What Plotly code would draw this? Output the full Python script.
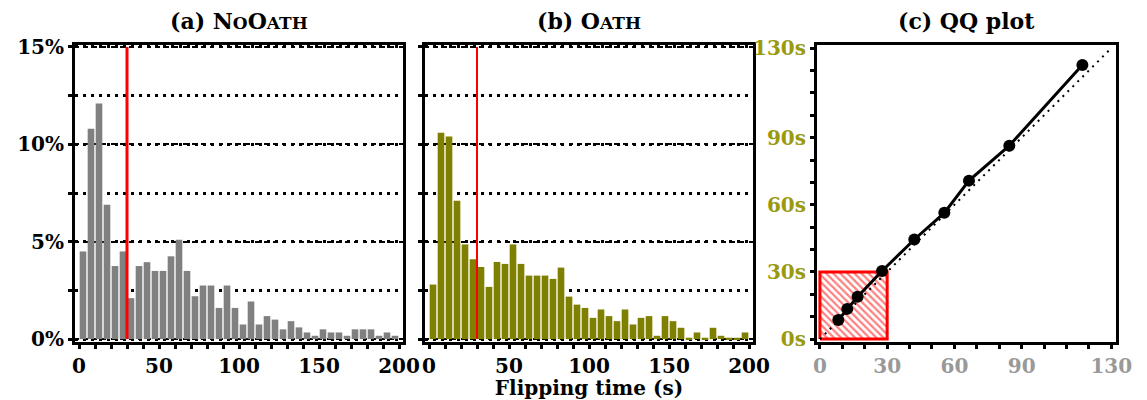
import plotly.graph_objects as go

# ---------------- data ----------------
bin_starts = list(range(0, 200, 5))          # 5-second bins, 0..200 s
noath_pct = [4.5, 10.8, 12.1, 6.9, 3.75, 4.5, 2.1, 3.75, 3.95, 3.5,
             3.5, 4.25, 5.1, 3.5, 2.2, 2.75, 2.75, 1.6, 2.75, 1.6,
             0.75, 1.93, 0.75, 1.18, 1.0, 0.5, 0.92, 0.6, 0.34, 0.17,
             0.5, 0.34, 0.34, 0.17, 0.5, 0.5, 0.5, 0.17, 0.34, 0.17]
oath_pct = [2.8, 10.6, 10.4, 7.1, 4.86, 4.1, 3.7, 2.68, 3.96, 3.86,
            4.86, 3.86, 3.26, 3.26, 3.26, 3.09, 3.67, 2.18, 1.77, 1.6,
            1.09, 1.52, 1.18, 0.92, 1.52, 0.75, 1.09, 1.18, 0.17, 1.18,
            0.92, 0.58, 0.07, 0.34, 0.07, 0.58, 0.17, 0.07, 0.07, 0.34]
threshold_s = 30

qq_noath = [8.2, 12.2, 16.8, 27.7, 42.1, 55.5, 66.5, 84.5, 117.1]
qq_oath = [8.5, 13.5, 18.9, 30.4, 44.5, 56.4, 70.8, 86.4, 122.5]
qq_ref = [0, 130]

hist_xticks = [0, 50, 100, 150, 200]
hist_yticks = [0, 5, 10, 15]
hist_ylabels = ["0%", "5%", "10%", "15%"]
qq_ticks = [0, 30, 60, 90, 130]
qq_ylabels = ["0s", "30s", "60s", "90s", "130s"]

# ---------------- styling ----------------
W, H = 1147, 400
FONT = "DejaVu Serif"
GRAY = "#808080"
OLIVE = "#808000"
OLIVE_TXT = "#9a9a10"

def px_x(a, b):
    return [a / W, b / W]

def px_y(top, bottom):
    return [(H - bottom) / H, (H - top) / H]

x_centers = [s + 2.5 for s in bin_starts]

fig = go.Figure()
fig.add_trace(go.Bar(x=x_centers, y=noath_pct, marker=dict(color=GRAY, line=dict(width=0)),
                     xaxis="x", yaxis="y", showlegend=False))
fig.add_trace(go.Bar(x=x_centers, y=oath_pct, marker=dict(color=OLIVE, line=dict(width=0)),
                     xaxis="x2", yaxis="y2", showlegend=False))

# hatched square in QQ plot
sq = threshold_s
fig.add_trace(go.Scatter(x=[0, sq, sq, 0, 0], y=[0, 0, sq, sq, 0], mode="lines",
                         fill="toself", fillcolor="white",
                         fillpattern=dict(shape="\\", fgcolor="#ff0000", bgcolor="white",
                                          size=5, solidity=0.45),
                         line=dict(color="red", width=3),
                         xaxis="x3", yaxis="y3", showlegend=False))
fig.add_trace(go.Scatter(x=qq_ref, y=qq_ref, mode="lines",
                         line=dict(color="black", width=2, dash="2px,5px"),
                         xaxis="x3", yaxis="y3", showlegend=False))
fig.add_trace(go.Scatter(x=qq_noath, y=qq_oath, mode="lines+markers",
                         line=dict(color="black", width=3),
                         marker=dict(color="black", size=12),
                         xaxis="x3", yaxis="y3", showlegend=False))

tickfont = dict(family=FONT, size=20, color="black", weight="bold")
axis_common = dict(showline=True, linewidth=3, linecolor="black", mirror=True,
                   zeroline=False, ticks="outside", ticklen=4, tickwidth=3,
                   tickcolor="black", automargin=False)

hist_x = dict(axis_common, range=[-2.5, 202.5], tickvals=hist_xticks,
              showgrid=False, tickfont=tickfont,
              minor=dict(dtick=10, ticks="outside", ticklen=4, tickwidth=3,
                         tickcolor="black", showgrid=False))
hist_y_grid = dict(range=[-0.15, 15.1], showgrid=True, gridcolor="black",
                   gridwidth=1.5, griddash="4px,5px",
                   minor=dict(dtick=2.5, ticks="outside", ticklen=4, tickwidth=3,
                              tickcolor="black", showgrid=True, gridcolor="black",
                              gridwidth=3, griddash="3px,5px"))

fig.update_layout(
    width=W, height=H,
    margin=dict(l=0, r=0, t=0, b=0),
    paper_bgcolor="white", plot_bgcolor="white",
    bargap=0.17,
    font=dict(family=FONT, color="black"),
    xaxis=dict(hist_x, domain=px_x(75, 403), anchor="y"),
    yaxis=dict(axis_common, **hist_y_grid, domain=px_y(45, 342), anchor="x",
               tickvals=hist_yticks, ticktext=hist_ylabels, tickfont=tickfont),
    xaxis2=dict(hist_x, domain=px_x(425, 753), anchor="y2",
                title=dict(text="<b>Flipping time (s)</b>",
                           font=dict(family=FONT, size=20), standoff=0)),
    yaxis2=dict(axis_common, **hist_y_grid, domain=px_y(45, 342), anchor="x2",
                tickvals=hist_yticks, showticklabels=False),
    xaxis3=dict(axis_common, domain=px_x(817, 1116), anchor="y3",
                range=[-1.3, 132.1], tickvals=qq_ticks, showgrid=False,
                tickfont=dict(family=FONT, size=20, color="#999999", weight="bold"),
                minor=dict(dtick=10, ticks="outside", ticklen=4, tickwidth=3,
                           tickcolor="black")),
    yaxis3=dict(axis_common, domain=px_y(45, 342), anchor="x3",
                range=[-1.3, 131.4], tickvals=qq_ticks, ticktext=qq_ylabels,
                showgrid=False,
                tickfont=dict(family=FONT, size=20, color=OLIVE_TXT, weight="bold"),
                minor=dict(dtick=10, ticks="outside", ticklen=4, tickwidth=3,
                           tickcolor="black")),
)
fig.update_yaxes(layer="above traces")

# threshold lines
fig.add_shape(type="line", x0=threshold_s, x1=threshold_s, y0=0, y1=15,
              xref="x", yref="y", line=dict(color="red", width=3))
fig.add_shape(type="line", x0=threshold_s, x1=threshold_s, y0=0, y1=15,
              xref="x2", yref="y2", line=dict(color="red", width=2))

def title_text(letter, big_small):
    s = f"({letter}) "
    for part, small in big_small:
        if small:
            s += f"<span style='font-size:17px'>{part}</span>"
        else:
            s += part
    return s

titles = [
    (239 / W, title_text("a", [("N", False), ("O", True), ("O", False), ("ATH", True)])),
    (589 / W, title_text("b", [("O", False), ("ATH", True)])),
    (966 / W, "(c) QQ plot"),
]
for xc, txt in titles:
    fig.add_annotation(x=xc, y=(H - 21) / H, xref="paper", yref="paper",
                       text=f"<b>{txt}</b>", showarrow=False,
                       font=dict(family=FONT, size=22, color="black"),
                       xanchor="center", yanchor="middle")

fig.write_html("out.html", config={"displayModeBar": False},
               post_script="document.body.style.margin='0px';")
